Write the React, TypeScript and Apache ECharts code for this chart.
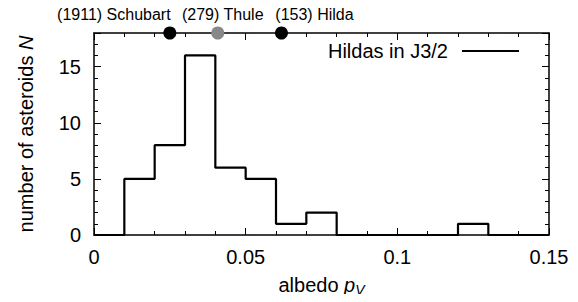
import React, { useEffect, useRef } from "react";
import * as echarts from "echarts";

const binEdges = [0, 0.01, 0.02, 0.03, 0.04, 0.05, 0.06, 0.07, 0.08, 0.09, 0.1, 0.11, 0.12, 0.13, 0.14, 0.15];
const counts = [0, 5, 8, 16, 6, 5, 1, 2, 0, 0, 0, 0, 1, 0, 0];
const asteroidNames = ["(1911) Schubart", "(279) Thule", "(153) Hilda"];
const asteroidAlbedo = [0.025, 0.0408, 0.0618];
const asteroidColors = ["#000000", "#888888", "#000000"];
const labelOffsets = [-56, 5, 33];
const xTicks = [0, 0.05, 0.1, 0.15];
const yTicks = [0, 5, 10, 15];
const yMax = 18;

const FONT = "Liberation Sans, Arial, sans-serif";

export default function App() {
  const ref = useRef<HTMLDivElement>(null);
  useEffect(() => {
    if (!ref.current) return;
    const chart = echarts.init(ref.current, null, { renderer: "svg" });
    const histData: number[][] = counts.map((c, i) => [binEdges[i], c]);
    histData.push([binEdges[binEdges.length - 1], 0]);
    const axisCommon = {
      type: "value" as const,
      axisLine: { show: true, onZero: false, lineStyle: { color: "#000", width: 1.5 } },
      axisTick: { show: true, inside: true, length: 7, lineStyle: { color: "#000", width: 1 } },
      minorTick: { show: true, splitNumber: 5, length: 4, lineStyle: { color: "#000", width: 1 } },
      splitLine: { show: false },
    };
    chart.setOption({
      animation: false,
      grid: { left: 94, right: 29, top: 33, bottom: 64 },
      legend: {
        right: 54,
        top: 36,
        align: "right",
        itemWidth: 57,
        itemHeight: 2,
        icon: "rect",
        data: ["Hildas in J3/2"],
        textStyle: { fontFamily: FONT, fontSize: 20, color: "#000", padding: [0, 9, 0, 0] },
      },
      xAxis: [
        {
          ...axisCommon,
          min: 0,
          max: 0.15,
          interval: 0.05,
          position: "bottom",
          name: "{n|albedo }{i|p}{s|V}",
          nameLocation: "middle",
          nameGap: 38,
          nameTextStyle: {
            rich: {
              n: { fontFamily: FONT, fontSize: 20, color: "#000" },
              i: { fontFamily: FONT, fontSize: 20, fontStyle: "italic", color: "#000" },
              s: { fontFamily: FONT, fontSize: 14, fontStyle: "italic", color: "#000", verticalAlign: "bottom", padding: [10, 0, 0, 0] },
            },
          },
          axisLabel: {
            fontFamily: FONT,
            fontSize: 20,
            color: "#000",
            margin: 12,
            formatter: (v: number) => {
              const t = xTicks.find((x) => Math.abs(x - v) < 1e-9);
              return t === undefined ? "" : String(t);
            },
          },
        },
        {
          ...axisCommon,
          min: 0,
          max: 0.15,
          interval: 0.05,
          position: "top",
          axisLabel: { show: false },
        },
      ],
      yAxis: [
        {
          ...axisCommon,
          min: 0,
          max: yMax,
          interval: 5,
          position: "left",
          name: "{n|number of asteroids }{i|N}",
          nameLocation: "middle",
          nameGap: 58,
          nameTextStyle: {
            rich: {
              n: { fontFamily: FONT, fontSize: 20, color: "#000" },
              i: { fontFamily: FONT, fontSize: 20, fontStyle: "italic", color: "#000" },
            },
          },
          axisLabel: {
            fontFamily: FONT,
            fontSize: 20,
            color: "#000",
            margin: 13,
            formatter: (v: number) => (yTicks.indexOf(v) >= 0 ? String(v) : ""),
          },
        },
        {
          ...axisCommon,
          min: 0,
          max: yMax,
          interval: 5,
          position: "right",
          axisLabel: { show: false },
        },
      ],
      series: [
        {
          name: "Hildas in J3/2",
          type: "line",
          step: "end",
          data: histData,
          symbol: "none",
          lineStyle: { color: "#000", width: 2.2 },
          itemStyle: { color: "#000" },
          z: 3,
        },
        {
          type: "scatter",
          clip: false,
          symbolSize: 13,
          z: 5,
          data: asteroidAlbedo.map((a, i) => ({
            value: [a, yMax],
            itemStyle: { color: asteroidColors[i], opacity: 1 },
            label: {
              show: true,
              position: "top",
              distance: 4,
              offset: [labelOffsets[i], 0],
              formatter: asteroidNames[i],
              fontFamily: FONT,
              fontSize: 16,
              color: "#000",
            },
          })),
        },
      ],
    });
    return () => chart.dispose();
  }, []);
  return <div ref={ref} style={{ width: 578, height: 302, margin: -8 }} />;
}
